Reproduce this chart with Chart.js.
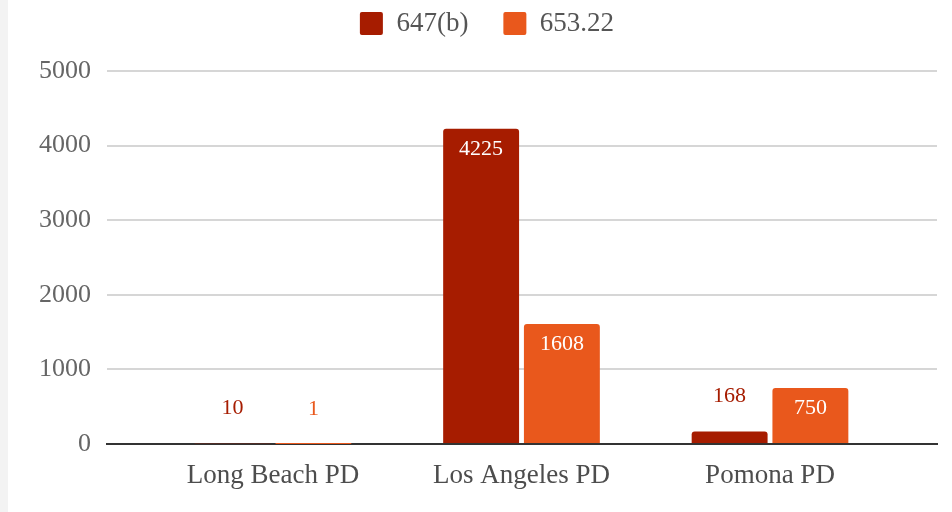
<!DOCTYPE html>
<html>
<head>
<meta charset="utf-8">
<script src="https://cdn.jsdelivr.net/npm/chart.js@4.4.1/dist/chart.umd.min.js"></script>
<style>
  html, body { margin: 0; padding: 0; background: #fff; }
  #strip { position: absolute; left: 0; top: 0; width: 8px; height: 512px; background: #f3f3f3; }
  #wrap { position: absolute; left: 0; top: 0; width: 952px; height: 512px; }
</style>
</head>
<body>
<div id="strip"></div>
<div id="wrap"><canvas id="chart"></canvas></div>
<script>
var categories = ['Long Beach PD', 'Los Angeles PD', 'Pomona PD']
var series647 = [10, 4225, 168]
var series653 = [1, 1608, 750]
var yTicks = [0, 1000, 2000, 3000, 4000, 5000]
var seriesNames = ['647(b)', '653.22']
var seriesColors = ['#a61c00', '#e9581c']

var serif = '"Liberation Serif", "Times New Roman", serif'

function points(values) {
  return values.map(function (v, i) { return {x: i, y: v} })
}

// value labels: white inside tall bars, series colour above short ones
var valueLabels = {
  id: 'valueLabels',
  afterDatasetsDraw: function (chart) {
    var ctx = chart.ctx
    ctx.save()
    ctx.font = '22px ' + serif
    ctx.textAlign = 'center'
    ctx.textBaseline = 'middle'
    chart.data.datasets.forEach(function (ds, di) {
      chart.getDatasetMeta(di).data.forEach(function (bar, i) {
        var h = bar.base - bar.y
        if (h > 40) {
          ctx.fillStyle = '#fff'
          ctx.fillText(ds.data[i].y, bar.x, bar.y + 20.5)
        } else {
          ctx.fillStyle = ds.backgroundColor
          ctx.fillText(ds.data[i].y, bar.x, bar.y - 35)
        }
      })
    })
    ctx.restore()
  }
}

// extra room under the legend, and centre it a bit right of the canvas middle
var legendGap = {
  id: 'legendGap',
  beforeInit: function (chart) {
    var fit = chart.legend.fit
    chart.legend.fit = function () {
      fit.call(this)
      this.height += 24
    }
  },
  afterLayout: function (chart) {
    chart.legend.left = 37
  }
}

new Chart(document.getElementById('chart'), {
  type: 'bar',
  data: {
    datasets: [
      {label: seriesNames[0], data: points(series647), backgroundColor: seriesColors[0]},
      {label: seriesNames[1], data: points(series653), backgroundColor: seriesColors[1]}
    ]
  },
  options: {
    responsive: true,
    maintainAspectRatio: false,
    animation: false,
    layout: {padding: {top: -25, left: 8, right: 15, bottom: 0}},
    datasets: {bar: {categoryPercentage: 0.65, barPercentage: 0.94, borderRadius: 3}},
    plugins: {
      tooltip: {enabled: false},
      legend: {
        labels: {
          font: {family: serif, size: 27},
          color: '#555',
          boxWidth: 23,
          boxHeight: 23,
          padding: 35,
          useBorderRadius: true,
          borderRadius: 2
        }
      }
    },
    scales: {
      x: {
        type: 'linear',
        offset: false,
        min: -0.668,
        max: 2.672,
        afterBuildTicks: function (scale) {
          scale.ticks = categories.map(function (c, i) { return {value: i} })
        },
        afterFit: function (scale) { scale.height = 68 },
        grid: {display: false},
        border: {color: '#333', width: 2},
        ticks: {
          callback: function (v) { return categories[v] },
          font: {family: serif, size: 27},
          color: '#4d4d4d',
          padding: 8,
          maxRotation: 0,
          autoSkip: false
        }
      },
      y: {
        min: 0,
        max: 5000,
        afterBuildTicks: function (scale) {
          scale.ticks = yTicks.map(function (v) { return {value: v} })
        },
        afterFit: function (scale) { scale.width = 99 },
        grid: {
          color: function (c) { return c.tick && c.tick.value === 0 ? '#333' : '#d6d6d6' },
          lineWidth: 2,
          drawTicks: false
        },
        border: {display: false},
        ticks: {
          callback: function (v) { return String(v) },
          font: {family: serif, size: 26},
          color: '#666',
          padding: 16
        }
      }
    }
  },
  plugins: [valueLabels, legendGap]
})
</script>
</body>
</html>
